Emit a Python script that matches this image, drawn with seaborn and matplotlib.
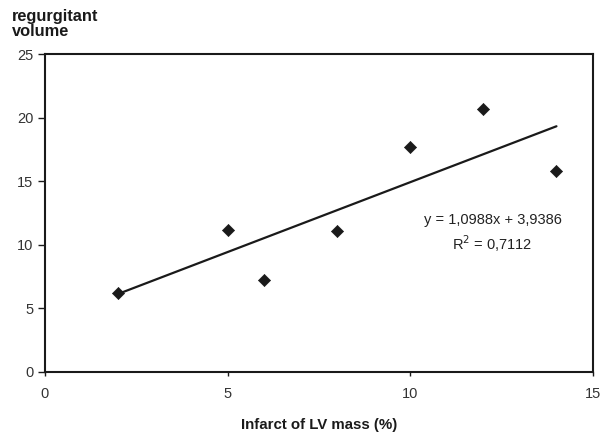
import numpy as np
import pandas as pd
import seaborn as sns
import matplotlib.pyplot as plt

infarct_pct = [2, 5, 6, 8, 10, 12, 14]
regurg_volume = [6.2, 11.2, 7.2, 11.1, 17.7, 20.7, 15.8]
slope = 1.0988
intercept = 3.9386
r_squared = 0.7112
x_ticks = [0, 5, 10, 15]
y_ticks = [0, 5, 10, 15, 20, 25]

sns.set_style("ticks")
plt.rcParams["font.family"] = ["Liberation Sans", "DejaVu Sans"]

df = pd.DataFrame({"x": infarct_pct, "y": regurg_volume})
trend_x = np.array([min(infarct_pct), max(infarct_pct)])
trend = pd.DataFrame({"x": trend_x, "y": slope * trend_x + intercept})

fig = plt.figure(figsize=(6.03, 4.32), dpi=100)
fig.patch.set_facecolor("white")
ax = fig.add_axes([0.0746, 0.1389, 0.9088, 0.736])

sns.lineplot(ax=ax, data=trend, x="x", y="y", color="#1a1a1a", linewidth=1.6)
sns.scatterplot(ax=ax, data=df, x="x", y="y", marker="D", s=38,
                color="#1a1a1a", edgecolor="#1a1a1a", zorder=3)

ax.set_xlim(0, 15)
ax.set_ylim(0, 25)
ax.set_xticks(x_ticks)
ax.set_yticks(y_ticks)
ax.tick_params(direction="out", width=1, labelsize=10.5, labelcolor="#333333",
               color="#1a1a1a")
ax.tick_params(axis="y", length=5, pad=3.5)
ax.tick_params(axis="x", length=3, pad=8)
for spine in ax.spines.values():
    spine.set_visible(True)
    spine.set_linewidth(1.5)
    spine.set_color("#1a1a1a")

ax.set_xlabel("Infarct of LV mass (%)", fontsize=10.8, fontweight="bold",
              labelpad=12, color="#1a1a1a")
ax.set_ylabel("")
fig.text(0.02, 0.98, "regurgitant\nvolume", fontsize=11.8, fontweight="bold",
         va="top", ha="left", linespacing=1.0, color="#1a1a1a")

eq = f"y = {slope:.4f}x + {intercept:.4f}".replace(".", ",")
r2 = f"R$^{{ 2}}$ = {r_squared:.4f}".replace(".", ",")
ax.text(12.25, 11.95, eq, ha="center", va="center", fontsize=10.5, color="#222222")
ax.text(12.25, 10.1, r2, ha="center", va="center", fontsize=10.5, color="#222222")

fig.savefig("out.png", dpi=100)
